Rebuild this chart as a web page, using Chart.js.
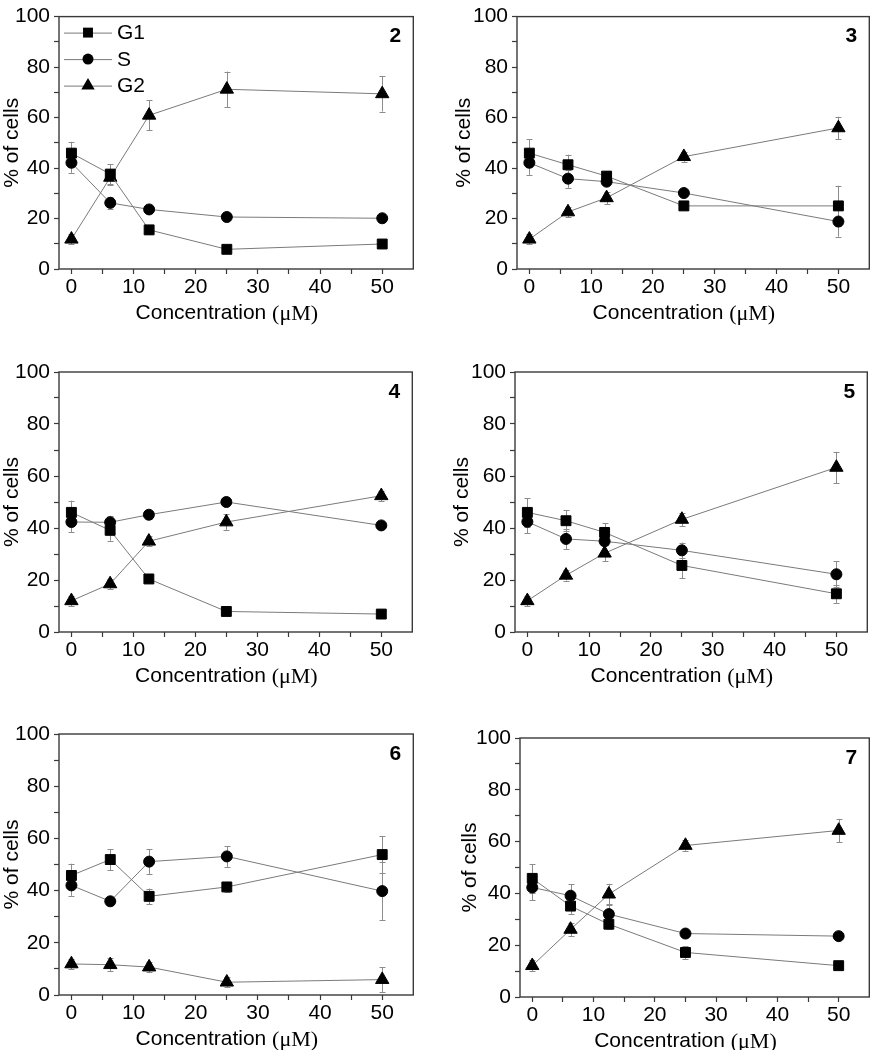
<!DOCTYPE html>
<html>
<head>
<meta charset="utf-8">
<script src="https://cdn.jsdelivr.net/npm/chart.js"></script>
<style>
  body { margin: 0; background: #fff; width: 878px; height: 1050px; overflow: hidden; position: relative; }
  canvas { position: absolute; }
</style>
</head>
<body>
<canvas id="c2"></canvas>
<canvas id="c3"></canvas>
<canvas id="c4"></canvas>
<canvas id="c5"></canvas>
<canvas id="c6"></canvas>
<canvas id="c7"></canvas>
<script>
// shared axis data
var conc = [0, 6.25, 12.5, 25, 50];
var seriesNames = ['G1', 'S', 'G2'];
var xTicks = [0, 5, 10, 15, 20, 25, 30, 35, 40, 45, 50];
var xTickLabels = ['0', '', '10', '', '20', '', '30', '', '40', '', '50'];
var yTicks = [0, 10, 20, 30, 40, 50, 60, 70, 80, 90, 100];
var yTickLabels = ['0', '', '20', '', '40', '', '60', '', '80', '', '100'];
var xTitleParts = ['Concentration ', '(μM)'];
var yTitle = '% of cells';

// compound 2
var g1_2 = [45.9, 37.6, 15.5, 7.8, 9.9];
var g1Err_2 = [4.5, 4, 1.5, 1.2, 1.2];
var s_2 = [42.1, 26.2, 23.6, 20.6, 20.1];
var sErr_2 = [4, 2.5, 1.5, 1, 1];
var g2_2 = [11.8, 36.3, 60.9, 71.2, 69.4];
var g2Err_2 = [2, 3, 6, 7, 7];

// compound 3
var g1_3 = [45.9, 41.3, 36.8, 25, 25];
var g1Err_3 = [5.5, 4, 2, 1, 8];
var s_3 = [42.1, 35.8, 34.6, 30.1, 18.8];
var sErr_3 = [4.8, 3.6, 1.5, 1, 6];
var g2_3 = [11.8, 22.6, 28.2, 44.5, 55.9];
var g2Err_3 = [2, 2, 2.5, 2, 4.4];

// compound 4
var g1_4 = [46, 39.1, 20.4, 7.9, 6.9];
var g1Err_4 = [4.5, 4, 1.2, 1, 1];
var s_4 = [42.3, 42.2, 45.1, 50, 41];
var sErr_4 = [4, 2.5, 1.5, 1, 1];
var g2_4 = [12, 18.5, 34.9, 42.3, 52.4];
var g2Err_4 = [2, 2, 2, 3, 2];

// compound 5
var g1_5 = [46, 42.8, 38.3, 25.6, 14.7];
var g1Err_5 = [5.5, 4, 3.5, 5, 3.5];
var s_5 = [42.4, 35.8, 34.9, 31.4, 22.2];
var sErr_5 = [4.5, 4, 1.5, 3, 5];
var g2_5 = [12, 21.8, 30.3, 43.3, 63.3];
var g2Err_5 = [2, 2, 3, 2.5, 6];

// compound 6
var g1_6 = [45.8, 51.9, 37.8, 41.4, 53.8];
var g1Err_6 = [4.5, 4, 3, 2, 7];
var s_6 = [42, 35.9, 51.1, 53.1, 39.8];
var sErr_6 = [4, 1, 4.7, 4, 11];
var g2_6 = [11.9, 11.6, 10.7, 4.9, 5.9];
var g2Err_6 = [2, 2.5, 2, 2, 4.7];

// compound 7
var g1_7 = [45.8, 35.1, 28.1, 17.2, 12.1];
var g1Err_7 = [5.5, 3, 2, 2.5, 1];
var s_7 = [42.3, 39.1, 32, 24.5, 23.5];
var sErr_7 = [5, 4.4, 4, 1, 1];
var g2_7 = [12.1, 26.1, 39.7, 58.5, 64.3];
var g2Err_7 = [2, 2.5, 4, 2, 4.5];

var FONT = 'Liberation Sans, Arial, sans-serif';
var SERIF = 'Liberation Serif, Times New Roman, serif';
var FS = 21;
var markerStyles = ['rect', 'circle', 'triangle'];
var markerRadius = [7, 5.5, 7.7];

function toPoints(vals) {
  return conc.map(function (c, i) { return { x: c, y: vals[i] }; });
}

function makeDatasets(series, errs) {
  return series.map(function (vals, k) {
    return {
      label: seriesNames[k],
      data: toPoints(vals),
      errors: errs[k],
      borderColor: '#7a7a7a',
      borderWidth: 1,
      backgroundColor: '#000',
      pointStyle: markerStyles[k],
      pointRadius: markerRadius[k],
      pointBackgroundColor: '#000',
      pointBorderColor: '#000',
      pointBorderWidth: 1,
      tension: 0,
      clip: false
    };
  });
}

// error bars, drawn under the lines and markers
var errorBars = {
  id: 'errorBars',
  beforeDatasetsDraw: function (chart) {
    var ctx = chart.ctx, ys = chart.scales.y;
    ctx.save();
    ctx.strokeStyle = '#8c8c8c';
    ctx.lineWidth = 1;
    chart.data.datasets.forEach(function (ds, di) {
      var meta = chart.getDatasetMeta(di);
      meta.data.forEach(function (pt, i) {
        var e = ds.errors[i], v = ds.data[i].y;
        var top = ys.getPixelForValue(v + e), bot = ys.getPixelForValue(v - e);
        var x = Math.round(pt.x) + 0.5;
        ctx.beginPath();
        ctx.moveTo(x, top); ctx.lineTo(x, bot);
        ctx.moveTo(x - 3, Math.round(top) + 0.5); ctx.lineTo(x + 3, Math.round(top) + 0.5);
        ctx.moveTo(x - 3, Math.round(bot) + 0.5); ctx.lineTo(x + 3, Math.round(bot) + 0.5);
        ctx.stroke();
      });
    });
    ctx.restore();
  }
};

// box frame, x title (sans + serif unit) and compound number
var frame = {
  id: 'frame',
  afterDraw: function (chart) {
    var ctx = chart.ctx, a = chart.chartArea, xs = chart.scales.x;
    ctx.save();
    ctx.strokeStyle = '#3a3a3a';
    ctx.lineWidth = 1.4;
    ctx.strokeRect(a.left, a.top, a.right - a.left, a.bottom - a.top);

    ctx.fillStyle = '#000';
    ctx.textBaseline = 'middle';
    ctx.textAlign = 'left';
    var f1 = FS + 'px ' + FONT, f2 = (FS + 1) + 'px ' + SERIF;
    ctx.font = f1; var w1 = ctx.measureText(xTitleParts[0]).width;
    ctx.font = f2; var w2 = ctx.measureText(xTitleParts[1]).width;
    var cx = xs.getPixelForValue((conc[0] + conc[conc.length - 1]) / 2);
    var x0 = cx - (w1 + w2) / 2, ty = a.bottom + 44;
    ctx.font = f1; ctx.fillText(xTitleParts[0], x0, ty);
    ctx.font = f2; ctx.fillText(xTitleParts[1], x0 + w1, ty + 1);

    ctx.font = 'bold ' + FS + 'px ' + FONT;
    ctx.textAlign = 'center';
    ctx.fillText(chart.options.plugins.frame.label, a.right - 18, a.top + 20);
    ctx.restore();
  }
};

function drawMarker(ctx, style, x, y, r) {
  ctx.beginPath();
  if (style === 'rect') {
    var s = r * Math.SQRT1_2;
    ctx.rect(x - s, y - s, 2 * s, 2 * s);
  } else if (style === 'circle') {
    ctx.arc(x, y, r, 0, Math.PI * 2);
  } else {
    ctx.moveTo(x, y - r);
    ctx.lineTo(x + r * Math.sin(Math.PI * 2 / 3), y - r * Math.cos(Math.PI * 2 / 3));
    ctx.lineTo(x - r * Math.sin(Math.PI * 2 / 3), y - r * Math.cos(Math.PI * 2 / 3));
    ctx.closePath();
  }
  ctx.fill();
}

// legend inside the first panel: line with marker, then name
var insideLegend = {
  id: 'insideLegend',
  afterDraw: function (chart) {
    if (!chart.options.plugins.insideLegend.show) return;
    var ctx = chart.ctx, a = chart.chartArea;
    ctx.save();
    chart.data.datasets.forEach(function (ds, k) {
      var y = a.top + 16 + k * 26.5;
      ctx.strokeStyle = '#7a7a7a';
      ctx.lineWidth = 1;
      ctx.beginPath();
      ctx.moveTo(a.left + 5, y + 0.5);
      ctx.lineTo(a.left + 53, y + 0.5);
      ctx.stroke();
      ctx.fillStyle = '#000';
      drawMarker(ctx, ds.pointStyle, a.left + 29, y, ds.pointRadius);
      ctx.font = FS + 'px ' + FONT;
      ctx.textAlign = 'left';
      ctx.textBaseline = 'middle';
      ctx.fillText(ds.label, a.left + 58, y + 1);
    });
    ctx.restore();
  }
};

var panels = [
  { id: 'c2', label: '2', left: 0, top: 0, w: 422, h: 326, padTop: 9, yW: 59, yTitlePad: 0,
    series: [g1_2, s_2, g2_2], errs: [g1Err_2, sErr_2, g2Err_2], legend: true },
  { id: 'c3', label: '3', left: 440, top: 0, w: 438, h: 326, padTop: 9, yW: 77, yTitlePad: 12,
    series: [g1_3, s_3, g2_3], errs: [g1Err_3, sErr_3, g2Err_3] },
  { id: 'c4', label: '4', left: 0, top: 340, w: 421, h: 349, padTop: 32, yW: 59, yTitlePad: 0,
    series: [g1_4, s_4, g2_4], errs: [g1Err_4, sErr_4, g2Err_4] },
  { id: 'c5', label: '5', left: 440, top: 340, w: 436, h: 349, padTop: 32, yW: 75, yTitlePad: 10,
    series: [g1_5, s_5, g2_5], errs: [g1Err_5, sErr_5, g2Err_5] },
  { id: 'c6', label: '6', left: 0, top: 690, w: 422, h: 362, padTop: 44, yW: 59, yTitlePad: 0,
    series: [g1_6, s_6, g2_6], errs: [g1Err_6, sErr_6, g2Err_6] },
  { id: 'c7', label: '7', left: 440, top: 690, w: 438, h: 364, padTop: 48, yW: 80, yTitlePad: 18,
    series: [g1_7, s_7, g2_7], errs: [g1Err_7, sErr_7, g2Err_7] }
];

panels.forEach(function (p) {
  var cv = document.getElementById(p.id);
  cv.width = p.w; cv.height = p.h;
  cv.style.left = p.left + 'px'; cv.style.top = p.top + 'px';
  cv.style.width = p.w + 'px'; cv.style.height = p.h + 'px';

  new Chart(cv, {
    type: 'line',
    data: { datasets: makeDatasets(p.series, p.errs) },
    plugins: [errorBars, frame, insideLegend],
    options: {
      responsive: false,
      animation: false,
      devicePixelRatio: 1,
      layout: { padding: { top: p.padTop, right: 2, left: 0, bottom: 0 } },
      plugins: {
        legend: { display: false },
        tooltip: { enabled: false },
        frame: { label: p.label },
        insideLegend: { show: !!p.legend }
      },
      scales: {
        x: {
          type: 'linear', min: -2, max: 55,
          afterBuildTicks: function (s) { s.ticks = xTicks.map(function (v) { return { value: v }; }); },
          afterFit: function (s) { s.height = 57; },
          ticks: {
            color: '#000', padding: 1, maxRotation: 0, autoSkip: false,
            font: { family: FONT, size: FS },
            callback: function (v, i) { return xTickLabels[i]; }
          },
          grid: { drawOnChartArea: false, drawTicks: true, tickLength: 5, tickColor: '#3a3a3a', tickWidth: 1.2 },
          border: { display: false },
          title: { display: false }
        },
        y: {
          min: 0, max: 100,
          afterBuildTicks: function (s) { s.ticks = yTicks.map(function (v) { return { value: v }; }); },
          afterFit: function (s) { s.width = p.yW; },
          ticks: {
            color: '#000', padding: 4, autoSkip: false,
            font: { family: FONT, size: FS },
            callback: function (v, i) { return yTickLabels[i]; }
          },
          grid: { drawOnChartArea: false, drawTicks: true, tickLength: 5, tickColor: '#3a3a3a', tickWidth: 1.2 },
          border: { display: false },
          title: { display: true, text: yTitle, color: '#000',
                   font: { family: FONT, size: FS }, padding: { top: p.yTitlePad, bottom: 0 } }
        }
      }
    }
  });
});
</script>
</body>
</html>
